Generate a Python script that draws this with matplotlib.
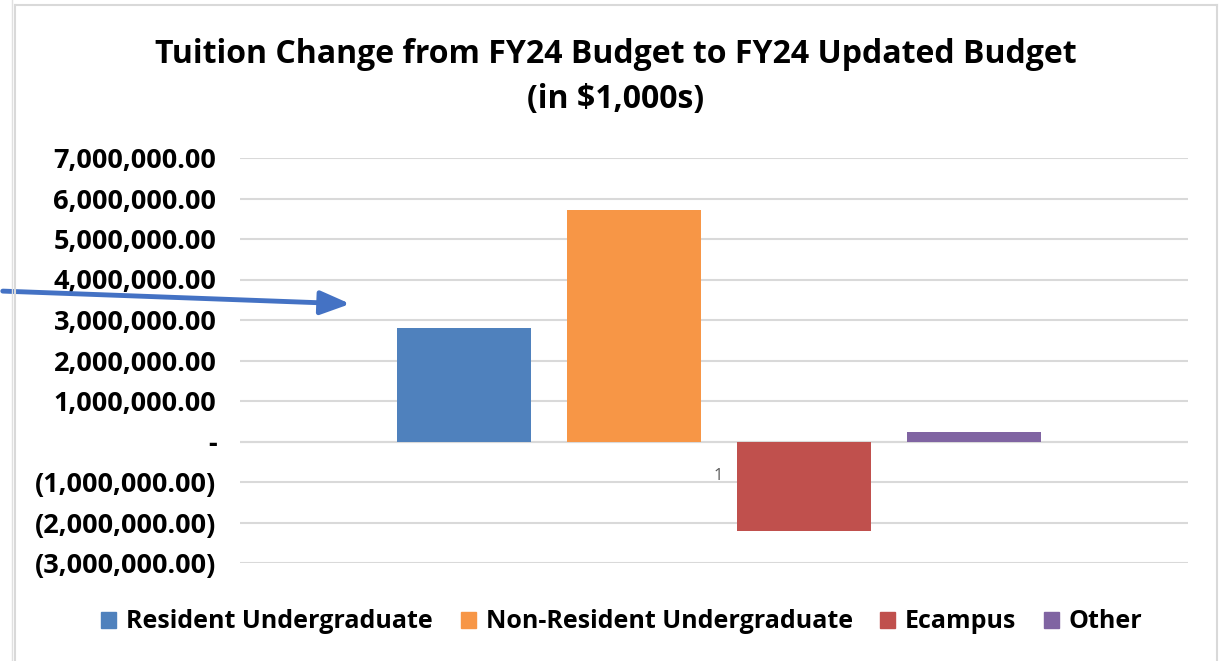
import matplotlib
matplotlib.use("Agg")
import matplotlib.pyplot as plt
import numpy as np
from matplotlib.ticker import FuncFormatter, MultipleLocator
from matplotlib.patches import Rectangle, FancyArrowPatch
from matplotlib.lines import Line2D

# data (in $1,000s)
category = "1"
series = ["Resident Undergraduate", "Non-Resident Undergraduate", "Ecampus", "Other"]
values = [2810000, 5720000, -2200000, 240000]
colors = ["#4F81BD", "#F79646", "#C0504D", "#8064A2"]

plt.rcParams["font.family"] = ["Open Sans", "DejaVu Sans"]

W, H = 1225, 661
fig = plt.figure(figsize=(W / 100, H / 100), dpi=100)
fig.patch.set_facecolor("white")

# plot area in pixels: x 240..1188, y 158 (7M) .. 563 (-3M)
ax = fig.add_axes([240 / W, 1 - 563 / H, (1188 - 240) / W, (563 - 158) / H])
ax.set_facecolor("none")

width = 134 / 170
x = (np.arange(len(series)) - 1.5)
for xi, v, c, s in zip(x, values, colors, series):
    ax.bar(xi, v, width=width, color=c, label=s, zorder=3)

ax.set_xlim(-2.815, 2.76)
ax.set_ylim(-3000000, 7000000)
ax.yaxis.set_major_locator(MultipleLocator(1000000))


def fmt(v, pos):
    if abs(v) < 1:
        return "-"
    if v < 0:
        return "({:,.2f})".format(-v)
    return "{:,.2f}".format(v)


ax.yaxis.set_major_formatter(FuncFormatter(fmt))
ax.grid(axis="y", color="#D9D9D9", linewidth=1.5, zorder=0)
ax.axhline(0, color="#D9D9D9", linewidth=1.5, zorder=1)
for sp in ax.spines.values():
    sp.set_visible(False)
ax.tick_params(axis="y", length=0, pad=17, labelsize=19.5)
for lab in ax.get_yticklabels():
    lab.set_fontweight("bold")
ax.set_xticks([])

# category label near the axis
ax.text(0, -850000, category, ha="center", va="center", fontsize=12, color="#595959")

fig.text(616 / W, 1 - 77 / H, "Tuition Change from FY24 Budget to FY24 Updated Budget\n(in $1,000s)",
         ha="center", va="center", fontsize=23, fontweight="bold", linespacing=1.45)

handles = [Rectangle((0, 0), 1, 1, color=c) for c in colors]
fig.legend(handles, series, loc="center", bbox_to_anchor=(622 / W, 1 - 622 / H), ncol=4,
           frameon=False, prop={"size": 18, "weight": "bold"}, handlelength=0.6, handleheight=0.6,
           handletextpad=0.4, columnspacing=1.1)

# chart border
fig.add_artist(Line2D([15 / W, 15 / W], [0, 1 - 5 / H], transform=fig.transFigure, color="#D9D9D9", lw=1.5))
fig.add_artist(Line2D([15 / W, 1217 / W], [1 - 5 / H, 1 - 5 / H], transform=fig.transFigure, color="#D9D9D9", lw=1.5))
fig.add_artist(Line2D([1217 / W, 1217 / W], [0, 1 - 5 / H], transform=fig.transFigure, color="#D9D9D9", lw=1.5))
fig.add_artist(Line2D([12 / W, 12 / W], [0, 1], transform=fig.transFigure, color="#E0E0E0", lw=1))

# blue annotation arrow
arrow = FancyArrowPatch((0, 1 - 291 / H), (353 / W, 1 - 304 / H), transform=fig.transFigure,
                        arrowstyle="-|>,head_length=1.5,head_width=0.6", mutation_scale=12,
                        color="#4472C4", lw=3.5)
fig.add_artist(arrow)

fig.savefig("out.png", dpi=100)
